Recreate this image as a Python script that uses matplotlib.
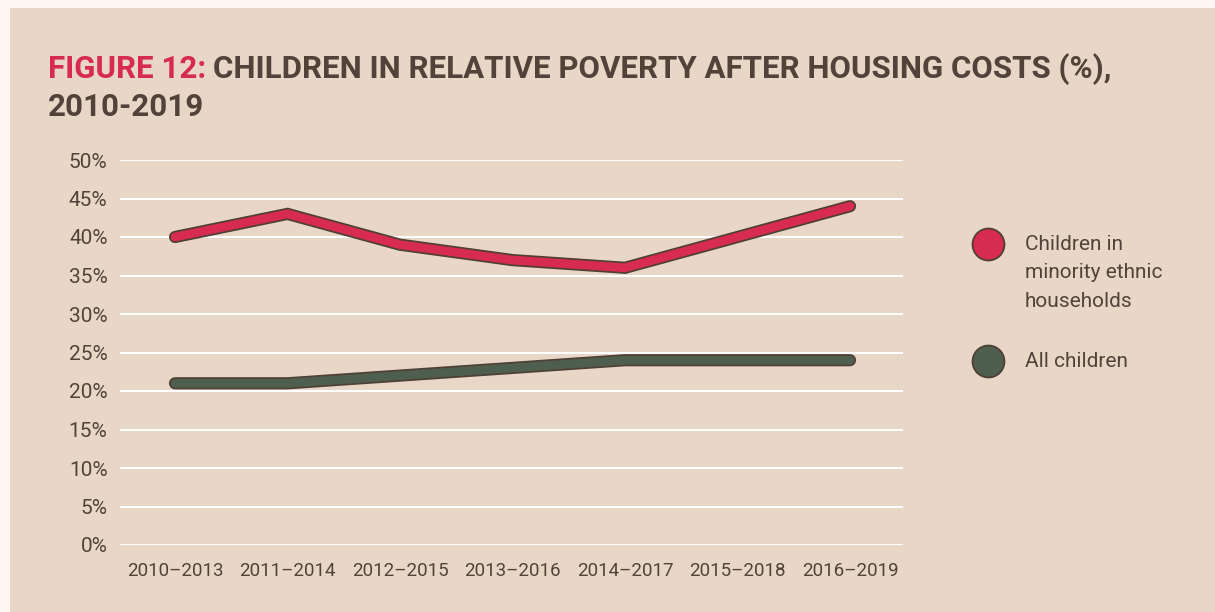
import matplotlib
matplotlib.use("Agg")
import matplotlib.pyplot as plt
import matplotlib.patheffects as pe
from matplotlib.lines import Line2D
from matplotlib.patches import Rectangle
from matplotlib.ticker import FuncFormatter

# Child poverty rates after housing costs, three-year rolling averages
periods = ["2010–2013", "2011–2014", "2012–2015", "2013–2016",
           "2014–2017", "2015–2018", "2016–2019"]
minority_ethnic = [40, 43, 39, 37, 36, 40, 44]
all_children = [21, 21, 22, 23, 24, 24, 24]

series_labels = ["Children in\nminority ethnic\nhouseholds", "All children"]

RED = "#D72B4F"
GREEN = "#4E5F50"
OUTLINE = "#4F3F35"
TEXT = "#51433A"
PANEL = "#E8D7C7"
PAGE = "#FDF6F1"

plt.rcParams["font.family"] = ["Roboto", "DejaVu Sans"]

fig = plt.figure(figsize=(12.15, 6.12), dpi=100)
fig.patch.set_facecolor(PAGE)
fig.add_artist(Rectangle((10 / 1215, 0), 1, 1 - 8 / 612, transform=fig.transFigure,
                         facecolor=PANEL, edgecolor="none", zorder=0))

ax = fig.add_axes([120 / 1215, 67 / 612, 783 / 1215, 385 / 612])
ax.set_facecolor("none")

x = range(len(periods))
for values, color in [(minority_ethnic, RED), (all_children, GREEN)]:
    ax.plot(x, values, color=color, lw=6.3, solid_capstyle="round",
            solid_joinstyle="miter", zorder=3,
            path_effects=[pe.Stroke(linewidth=8.8, foreground=OUTLINE), pe.Normal()])

ax.set_xlim(-0.489, 6.471)
ax.set_ylim(0, 50)
ax.set_yticks(range(0, 51, 5))
ax.yaxis.set_major_formatter(FuncFormatter(lambda v, _: f"{v:.0f}%"))
ax.set_xticks(list(x))
ax.set_xticklabels(periods)
ax.grid(axis="y", color="white", lw=1.4, zorder=1)
ax.set_axisbelow(True)
for s in ax.spines.values():
    s.set_visible(False)
ax.tick_params(axis="both", length=0, colors=TEXT)
ax.tick_params(axis="y", labelsize=15, pad=9)
ax.tick_params(axis="x", labelsize=13.5, pad=12)

# Title: red label followed directly by the dark heading
title_kw = dict(fontsize=22.5, fontweight="bold", ha="left", va="baseline")
head = fig.text(48 / 1215, 1 - 78 / 612, "FIGURE 12:", color=RED, **title_kw)
renderer = fig.canvas.get_renderer()
head_end = head.get_window_extent(renderer).x1 / fig.bbox.width
fig.text(head_end + 7 / 1215, 1 - 78 / 612,
         "CHILDREN IN RELATIVE POVERTY AFTER HOUSING COSTS (%),",
         color=TEXT, **title_kw)
fig.text(48 / 1215, 1 - 116 / 612, "2010-2019", color=TEXT, **title_kw)

# Legend drawn beside the plot
for label, color, ypx in [(series_labels[0], RED, 244), (series_labels[1], GREEN, 361)]:
    fig.add_artist(Line2D([988 / 1215], [1 - ypx / 612], transform=fig.transFigure,
                          marker="o", markersize=23, markerfacecolor=color,
                          markeredgecolor=OUTLINE, markeredgewidth=1.3, linestyle="none"))
    fig.text(1025 / 1215, 1 - (ypx - 9) / 612, label, color=TEXT, fontsize=15,
             ha="left", va="top", linespacing=1.62)

fig.savefig("out.png", dpi=100, facecolor=fig.get_facecolor())
